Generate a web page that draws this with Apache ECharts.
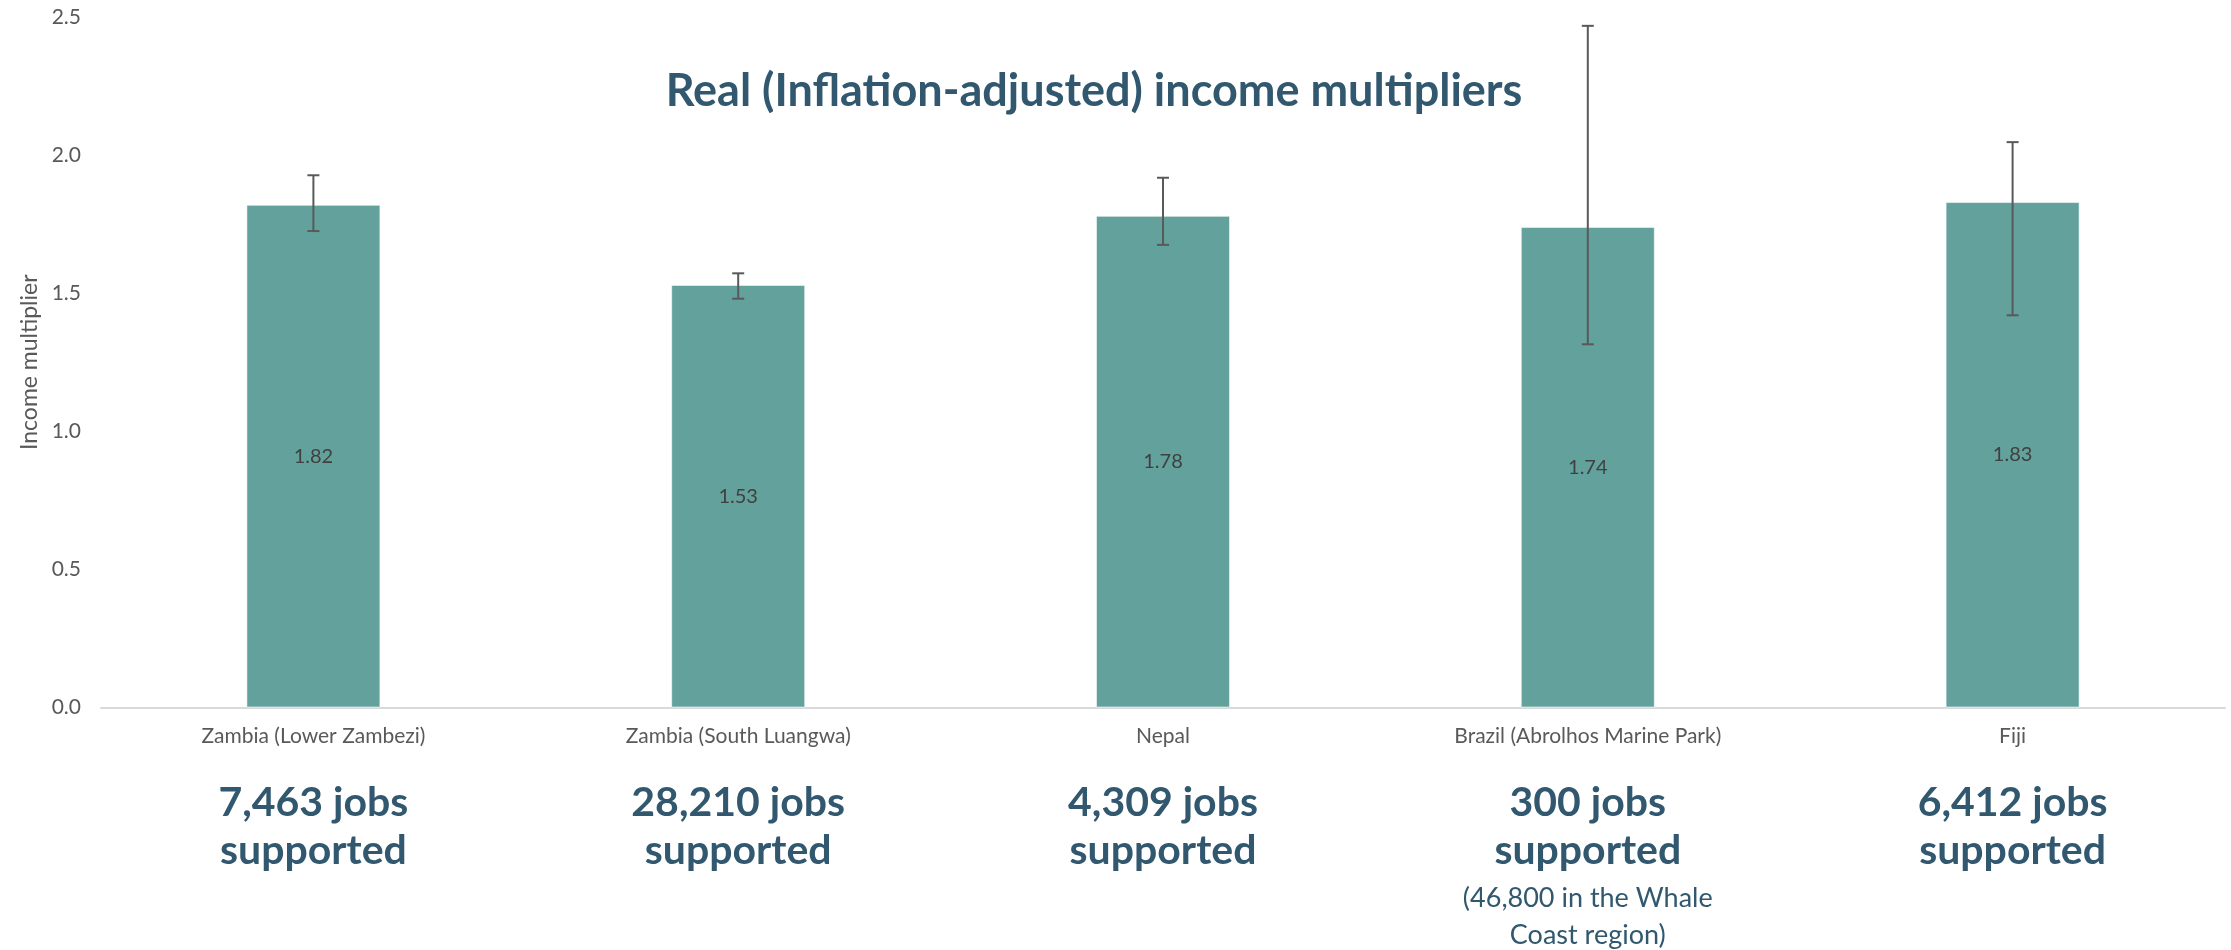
<!DOCTYPE html>
<html>
<head>
<meta charset="utf-8">
<style>
  html, body { margin: 0; padding: 0; background: #ffffff; }
  #chart { width: 2231px; height: 950px; }
</style>
<script src="https://cdn.jsdelivr.net/npm/echarts@6/dist/echarts.min.js"></script>
</head>
<body>
<div id="chart"></div>
<script>
// Study sites and their real (inflation-adjusted) income multipliers
const categories = [
  'Zambia (Lower Zambezi)',
  'Zambia (South Luangwa)',
  'Nepal',
  'Brazil (Abrolhos Marine Park)',
  'Fiji'
];
const multipliers = [1.82, 1.53, 1.78, 1.74, 1.83];
// Lower and upper ends of each error bar
const errorLow  = [1.725, 1.48, 1.675, 1.315, 1.42];
const errorHigh = [1.927, 1.572, 1.918, 2.468, 2.047];
// Employment figures printed under each site
const jobsCounts = ['7,463 jobs', '28,210 jobs', '4,309 jobs', '300 jobs', '6,412 jobs'];
const jobsNotes = [[], [], [], ['(46,800 in the Whale', 'Coast region)'], []];

const TEAL = '#63A19D';
const NAVY = '#31586F';
const GREY = '#595959';
const FONT = 'Lato, "Open Sans", sans-serif';

const chart = echarts.init(document.getElementById('chart'), null, { renderer: 'canvas' });

function categoryLabel(value, idx) {
  let s = '{cat|' + value + '}\n{sp1| }\n{jobs|' + jobsCounts[idx] + '}\n{jobs|supported}';
  const notes = jobsNotes[idx];
  if (notes.length) {
    s += '\n{sp2| }';
    notes.forEach(n => { s += '\n{note|' + n + '}'; });
  }
  return s;
}

const option = {
  backgroundColor: '#ffffff',
  animation: false,
  title: {
    text: 'Real (Inflation-adjusted) income multipliers',
    left: 1089,
    top: 60,
    textAlign: 'center',
    textStyle: {
      fontFamily: FONT,
      fontWeight: 'bold',
      fontSize: 45,
      lineHeight: 52,
      color: NAVY
    }
  },
  grid: { left: 101, right: 6, top: 17, bottom: 242.5, containLabel: false },
  xAxis: {
    type: 'category',
    data: categories,
    axisLine: { show: true, lineStyle: { color: '#D9D9D9', width: 2 } },
    axisTick: { show: false },
    splitLine: { show: false },
    axisLabel: {
      interval: 0,
      margin: 14,
      formatter: categoryLabel,
      rich: {
        cat:  { fontFamily: FONT, fontSize: 21, color: GREY, lineHeight: 30, align: 'center' },
        sp1:  { fontSize: 10, lineHeight: 27 },
        jobs: { fontFamily: FONT, fontWeight: 'bold', fontSize: 41, color: NAVY, lineHeight: 48, align: 'center' },
        sp2:  { fontSize: 4, lineHeight: 5 },
        note: { fontFamily: FONT, fontSize: 27, color: NAVY, lineHeight: 37, align: 'center' }
      }
    }
  },
  yAxis: {
    type: 'value',
    min: 0,
    max: 2.5,
    interval: 0.5,
    name: 'Income multiplier',
    nameLocation: 'middle',
    nameRotate: 90,
    nameGap: 60,
    nameTextStyle: { fontFamily: FONT, fontSize: 23, color: GREY },
    axisLine: { show: false },
    axisTick: { show: false },
    splitLine: { show: false },
    axisLabel: {
      margin: 20,
      fontFamily: FONT,
      fontSize: 21,
      color: GREY,
      formatter: v => v.toFixed(1)
    }
  },
  series: [
    {
      type: 'bar',
      data: multipliers,
      barWidth: 134,
      itemStyle: { color: TEAL, borderColor: 'rgba(255,255,255,0.55)', borderWidth: 1 },
      label: {
        show: true,
        position: 'inside',
        fontFamily: FONT,
        fontSize: 20,
        color: '#404040',
        formatter: p => p.value.toFixed(2)
      },
      z: 2
    },
    {
      type: 'custom',
      data: categories.map((c, i) => [i, errorLow[i], errorHigh[i]]),
      renderItem: function (params, api) {
        const lo = api.coord([api.value(0), api.value(1)]);
        const hi = api.coord([api.value(0), api.value(2)]);
        const cap = 6;
        const style = { stroke: '#595959', lineWidth: 2 };
        return {
          type: 'group',
          children: [
            { type: 'line', shape: { x1: hi[0], y1: hi[1], x2: lo[0], y2: lo[1] }, style },
            { type: 'line', shape: { x1: hi[0] - cap, y1: hi[1], x2: hi[0] + cap, y2: hi[1] }, style },
            { type: 'line', shape: { x1: lo[0] - cap, y1: lo[1], x2: lo[0] + cap, y2: lo[1] }, style }
          ]
        };
      },
      z: 5
    }
  ]
};

chart.setOption(option);
</script>
</body>
</html>
